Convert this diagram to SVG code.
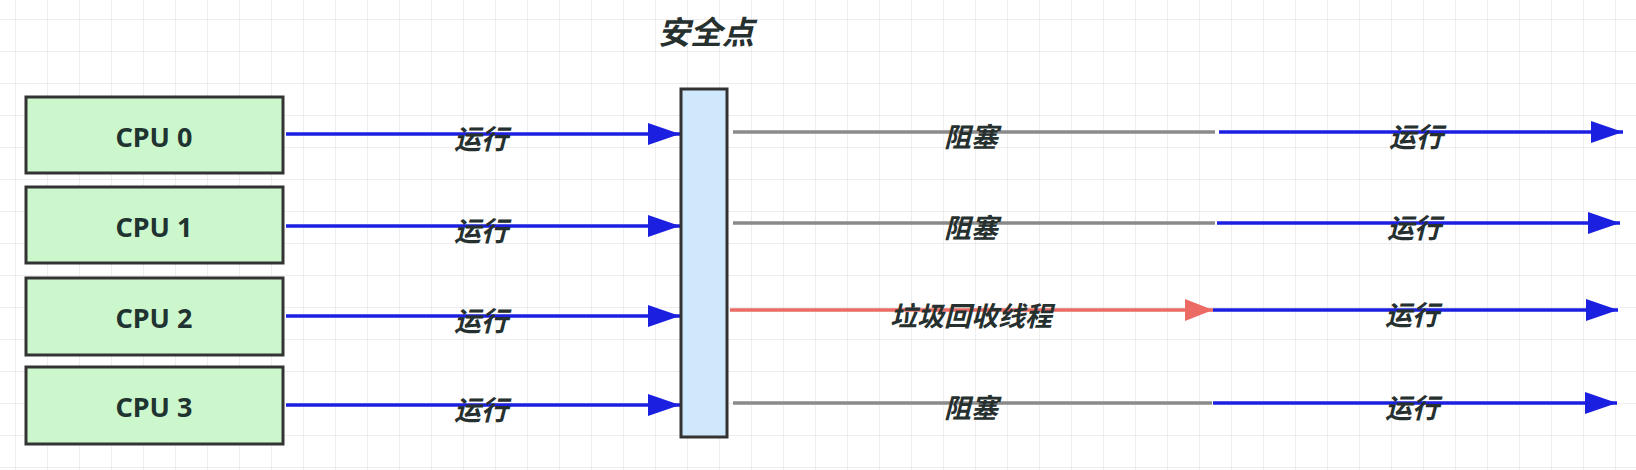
<svg xmlns="http://www.w3.org/2000/svg" width="1636" height="470" viewBox="0 0 1636 470">
<style>
.cpu rect{fill:#ccf7cd;stroke:#333;stroke-width:3}
.cpu text{font-family:"Noto Sans","Liberation Sans","Noto Sans CJK SC",sans-serif;font-weight:bold;font-size:27px;fill:#1f3330;text-anchor:middle;dominant-baseline:central}
.lbl{font-family:"Noto Sans CJK SC","Noto Sans",sans-serif;font-weight:bold;font-style:italic;font-size:27px;fill:#26302f;text-anchor:middle;dominant-baseline:central}
.blue{stroke:#1b1fe0;stroke-width:3.5;fill:none}
.gray{stroke:#8a8a8a;stroke-width:3.5;fill:none}
.red{stroke:#ec6a64;stroke-width:3.5;fill:none}
</style>
<defs>
<pattern id="grid" x="15" y="19" width="32" height="32" patternUnits="userSpaceOnUse">
<path d="M0 0H32M0 0V32" stroke="#e9e9e9" stroke-width="1.5" fill="none"/>
</pattern>
<marker id="ab" markerUnits="userSpaceOnUse" markerWidth="34" markerHeight="22" refX="32" refY="11" orient="auto"><path d="M0 0L32 11L0 22Z" fill="#1b1fe0"/></marker>
<marker id="ar" markerUnits="userSpaceOnUse" markerWidth="30" markerHeight="22" refX="28" refY="11" orient="auto"><path d="M0 0L28 11L0 22Z" fill="#ec6a64"/></marker>
</defs>
<rect width="1636" height="470" fill="#fff"/>
<rect width="1636" height="470" fill="url(#grid)"/>

<g id="connectors">
<line class="blue" x1="286" y1="134" x2="680" y2="134" marker-end="url(#ab)"/>
<line class="blue" x1="286" y1="226" x2="680" y2="226" marker-end="url(#ab)"/>
<line class="blue" x1="286" y1="316" x2="680" y2="316" marker-end="url(#ab)"/>
<line class="blue" x1="286" y1="405" x2="680" y2="405" marker-end="url(#ab)"/>
<line class="gray" x1="733" y1="132" x2="1215" y2="132"/>
<line class="gray" x1="733" y1="223" x2="1215" y2="223"/>
<line class="red" x1="730" y1="310" x2="1213" y2="310" marker-end="url(#ar)"/>
<line class="gray" x1="733" y1="403" x2="1212" y2="403"/>
<line class="blue" x1="1219" y1="132" x2="1623" y2="132" marker-end="url(#ab)"/>
<line class="blue" x1="1217" y1="223" x2="1620" y2="223" marker-end="url(#ab)"/>
<line class="blue" x1="1213" y1="310" x2="1618" y2="310" marker-end="url(#ab)"/>
<line class="blue" x1="1213" y1="403" x2="1617" y2="403" marker-end="url(#ab)"/>
<text class="lbl" x="481" y="137">运行</text>
<text class="lbl" x="481" y="229">运行</text>
<text class="lbl" x="481" y="319">运行</text>
<text class="lbl" x="481" y="408">运行</text>
<text class="lbl" x="971" y="135">阻塞</text>
<text class="lbl" x="971" y="226">阻塞</text>
<text class="lbl" x="971" y="314">垃圾回收线程</text>
<text class="lbl" x="971" y="406">阻塞</text>
<text class="lbl" x="1416" y="135">运行</text>
<text class="lbl" x="1414" y="226">运行</text>
<text class="lbl" x="1412" y="313">运行</text>
<text class="lbl" x="1412" y="406">运行</text>
</g>

<g id="cpu0" class="cpu"><rect x="26" y="97" width="257" height="76"/><text x="154" y="136">CPU 0</text></g>
<g id="cpu1" class="cpu"><rect x="26" y="187" width="257" height="76"/><text x="154" y="226">CPU 1</text></g>
<g id="cpu2" class="cpu"><rect x="26" y="278" width="257" height="77"/><text x="154" y="317">CPU 2</text></g>
<g id="cpu3" class="cpu"><rect x="26" y="367" width="257" height="77"/><text x="154" y="406">CPU 3</text></g>

<g id="safepoint">
<rect x="681" y="89" width="46" height="348" fill="#cfe8fb" stroke="#333" stroke-width="3"/>
<text class="lbl" x="706" y="30" style="font-size:32px">安全点</text>
</g>
</svg>
